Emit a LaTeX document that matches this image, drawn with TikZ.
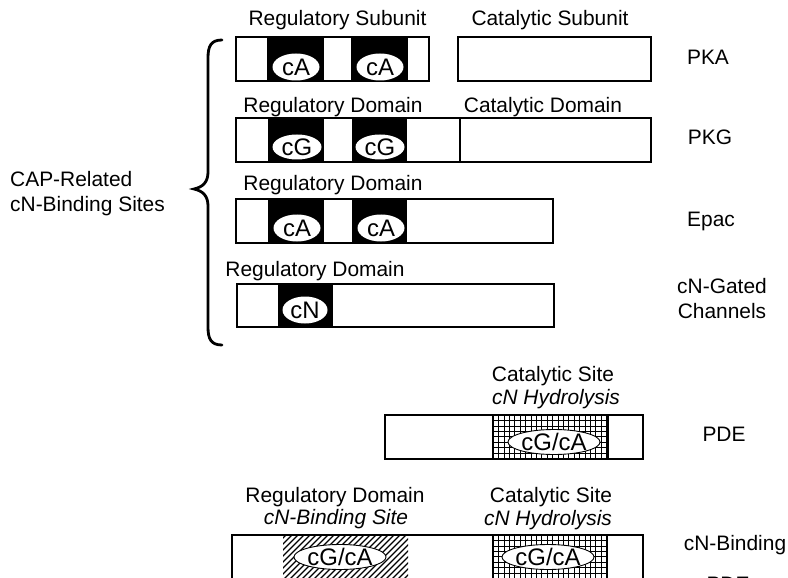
\documentclass[tikz,border=0pt]{standalone}
\usepackage{fontspec}
\setmainfont{Liberation Sans}
\usetikzlibrary{shapes.geometric}

% grid-filled block: #1,#2 = top-left corner, #3,#4 = bottom-right corner
\newcommand\gridblock[4]{%
  \begin{scope}
    \clip (#1,#2) rectangle (#3,#4);
    \foreach \i in {0,...,24} {\draw[gridln] ({#1+\i*5.4},#2) -- ({#1+\i*5.4},#4);}
    \foreach \j in {0,...,9} {\draw[gridln] (#1,{#2+\j*5.4}) -- (#3,{#2+\j*5.4});}
  \end{scope}
  \draw[edge] (#1,#2) -- (#1,#4);
  \draw[edge] (#3,#2) -- (#3,#4);
}
% diagonally hatched block
\newcommand\hatchblock[4]{%
  \begin{scope}
    \clip (#1,#2) rectangle (#3,#4);
    \foreach \k in {-10,...,25} {\draw[hatchln] ({#1+\k*6},#4) -- ++(50,-50);}
  \end{scope}
}

\begin{document}
\begin{tikzpicture}[x=1bp,y=-1bp,
  lbl/.style={anchor=base,inner sep=0pt,font=\fontsize{21}{25}\selectfont},
  ilbl/.style={anchor=base,inner sep=0pt,font=\fontsize{21}{25}\selectfont\itshape},
  bar/.style={draw=black,line width=2.6bp},
  edge/.style={line width=2.6bp},
  gridln/.style={line width=0.6bp},
  hatchln/.style={line width=1.3bp},
  site/.style={ellipse,fill=white,inner sep=0pt,font=\fontsize{24}{24}\selectfont,
    minimum width=47bp,minimum height=27bp},
  osite/.style={site,draw=black,line width=0.9bp,minimum width=78bp,minimum height=25bp},
]
\clip (0,0) rectangle (788,578);
\fill[white] (0,0) rectangle (788,578);

% ---- PKA ----
\fill[black] (267,37) rectangle (324,81);
\fill[black] (351,37) rectangle (408,81);
\draw[bar] (236,37) rectangle (429,81);
\draw[bar] (458,37) rectangle (651,81);
\node[site] (pka1) at (296,67) {cA};
\node[site] (pka2) at (380,67) {cA};
\node[lbl] (pkareg) at (337.5,26) {Regulatory Subunit};
\node[lbl] (pkacat) at (550,26) {Catalytic Subunit};
\node[lbl] (pka) at (708,65) {PKA};

% ---- PKG ----
\fill[black] (268,118) rectangle (324,162);
\fill[black] (352,118) rectangle (407,162);
\draw[bar] (236,118) rectangle (651,162);
\draw[edge] (460,118) -- (460,162);
\node[site,minimum width=49bp,minimum height=25bp] (pkg1) at (297,147) {cG};
\node[site,minimum width=49bp,minimum height=25bp] (pkg2) at (380,147) {cG};
\node[lbl] (pkgreg) at (333,113) {Regulatory Domain};
\node[lbl] (pkgcat) at (543,113) {Catalytic Domain};
\node[lbl] (pkg) at (710,145) {PKG};

% ---- Epac ----
\fill[black] (268,199) rectangle (324,243);
\fill[black] (352,199) rectangle (407,243);
\draw[bar] (236,199) rectangle (553,243);
\node[site] (epac1) at (297,228) {cA};
\node[site] (epac2) at (381,228) {cA};
\node[lbl] (epacreg) at (333,191) {Regulatory Domain};
\node[lbl] (epac) at (711,227) {Epac};

% ---- cN-gated channels ----
\fill[black] (278,284) rectangle (333,327);
\draw[bar] (237,284) rectangle (554,327);
\node[site,minimum width=45bp] (cng1) at (305,310) {cN};
\node[lbl] (cngreg) at (315,276) {Regulatory Domain};
\node[lbl] (cng) at (722,293) {cN-Gated};
\node[lbl] (cngb) at (722,318) {Channels};

% ---- brace and group label ----
\draw[line width=2.8bp,line cap=round]
  (222,40) .. controls (211,40) and (208,46) .. (208,58) -- (208,172)
  .. controls (208,182) and (203,187) .. (194,189)
  .. controls (203,191) and (208,196) .. (208,206) -- (208,327)
  .. controls (208,339) and (211,345) .. (222,345);
\node[lbl,anchor=base west] (grp1) at (10,187) {CAP-Related};
\node[lbl,anchor=base west] (grp2) at (10,212) {cN-Binding Sites};

% ---- PDE ----
\fill[white] (385,415) rectangle (643,459);
\gridblock{493}{415}{608}{459}
\draw[bar] (385,415) rectangle (643,459);
\node[osite] (pde1) at (554,442) {cG/cA};
\node[lbl] (pdecat) at (553,381) {Catalytic Site};
\node[ilbl] (pdehyd) at (556,404) {cN Hydrolysis};
\node[lbl] (pde) at (724,441) {PDE};

% ---- cN-binding PDE ----
\hatchblock{283}{535}{408}{580}
\gridblock{493}{535}{607}{580}
\draw[bar] (232,535) rectangle (643,579);
\node[osite,minimum width=76bp] (bpde1) at (340,557) {cG/cA};
\node[osite,minimum width=76bp] (bpde2) at (548,557) {cG/cA};
\node[lbl] (bpdereg) at (335,502) {Regulatory Domain};
\node[ilbl] (bpdebs) at (336,524) {cN-Binding Site};
\node[lbl] (bpdecat) at (551,502) {Catalytic Site};
\node[ilbl] (bpdehyd) at (548,525) {cN Hydrolysis};
\node[lbl] (bpde) at (735,550) {cN-Binding};
\node[lbl] (bpdeb) at (728,591) {PDE};
\end{tikzpicture}
\end{document}
